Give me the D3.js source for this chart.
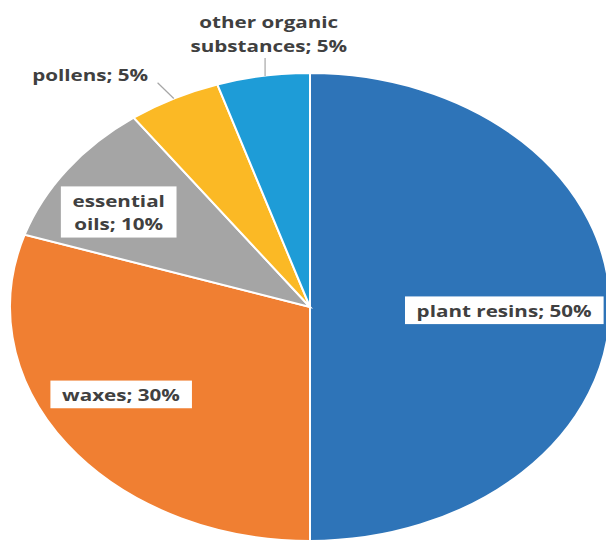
<!DOCTYPE html>
<html>
<head>
<meta charset="utf-8">
<script src="https://cdn.jsdelivr.net/npm/d3@7"></script>
<style>
  html, body { margin: 0; padding: 0; background: #ffffff; }
  svg { display: block; }
</style>
</head>
<body>
<script>
// ---- data ----
const categories = ["plant resins", "waxes", "essential oils", "pollens", "other organic substances"];
const values = [50, 30, 10, 5, 5];
const colors = ["#2E74B8", "#F07F32", "#A5A5A5", "#FBB925", "#1E9CD7"];
// label text lines
const labelLines = [
  ["plant resins; 50%"],
  ["waxes; 30%"],
  ["essential", "oils; 10%"],
  ["pollens; 5%"],
  ["other organic", "substances; 5%"]
];

// ---- layout ----
const W = 606, H = 543;
const cx = 310, cy = 307, rx = 300, ry = 234;
const sx = rx / ry;
const textStretch = 1.29; // the chart is stretched horizontally, text too
const labelLayout = [
  { f: 0.647, dx: 0, dy: 4, box: true },
  { f: 0.75, dx: -7, dy: -15, box: true },
  { f: 0.78, dx: -2, dy: 13, box: true },
  { f: 1.1, dx: -12, dy: -2, box: false, anchor: "end" },
  { f: 1.22, dx: 16, dy: 9, box: false, anchor: "middle" }
];

const svg = d3.select("body").append("svg")
  .attr("width", W).attr("height", H);

const data = categories.map((c, i) => ({ name: c, value: values[i], color: colors[i], lines: labelLines[i], lay: labelLayout[i] }));

const pie = d3.pie().value(d => d.value).sort(null);
const arcs = pie(data);
const arc = d3.arc().innerRadius(0).outerRadius(ry);

const g = svg.append("g")
  .attr("transform", `translate(${cx},${cy}) scale(${sx},1)`);

g.selectAll("path").data(arcs).join("path")
  .attr("d", arc)
  .attr("fill", d => d.data.color)
  .attr("stroke", "#ffffff")
  .attr("stroke-width", 2)
  .attr("vector-effect", "non-scaling-stroke");

function pt(a, f) {
  return [cx + Math.sin(a) * ry * f * sx, cy - Math.cos(a) * ry * f];
}

const fontFamily = "'Open Sans', Lato, sans-serif";
const fontSize = 16;
const textColor = "#404040";

const labels = svg.append("g");
arcs.forEach(d => {
  const mid = (d.startAngle + d.endAngle) / 2;
  const L = d.data.lay;
  const [px, py] = pt(mid, L.f);
  const x = px + L.dx, y = py + L.dy;
  const n = d.data.lines.length;
  const lineH = n > 1 ? 23.5 : 0;
  const anchor = L.anchor || "middle";
  const lg = labels.append("g")
    .attr("transform", `translate(${x},${y}) scale(${textStretch},1)`);
  const t = lg.append("text")
    .attr("font-family", fontFamily)
    .attr("font-size", fontSize)
    .attr("font-weight", 700)
    .attr("fill", textColor)
    .attr("text-anchor", anchor);
  d.data.lines.forEach((ln, k) => {
    t.append("tspan")
      .attr("x", 0)
      .attr("y", (k - (n - 1) / 2) * lineH + fontSize * 0.36)
      .text(ln);
  });
  const bb = t.node().getBBox();
  if (L.box) {
    lg.insert("rect", "text")
      .attr("x", bb.x - 9).attr("y", bb.y - 3)
      .attr("width", bb.width + 18).attr("height", bb.height + 6)
      .attr("fill", "#ffffff");
  } else {
    const edge = pt(mid, 1.0);
    let start, end;
    if (anchor === "middle") {
      start = [edge[0] + 2, y + bb.y + bb.height + 2];
      end = [edge[0] + 2, edge[1]];
    } else {
      start = [x + (bb.x + bb.width) * textStretch + 9, y + bb.y + bb.height - 3];
      end = edge;
    }
    labels.append("line")
      .attr("x1", start[0]).attr("y1", start[1])
      .attr("x2", end[0]).attr("y2", end[1])
      .attr("stroke", "#A6A6A6").attr("stroke-width", 1.2);
  }
});
</script>
</body>
</html>
